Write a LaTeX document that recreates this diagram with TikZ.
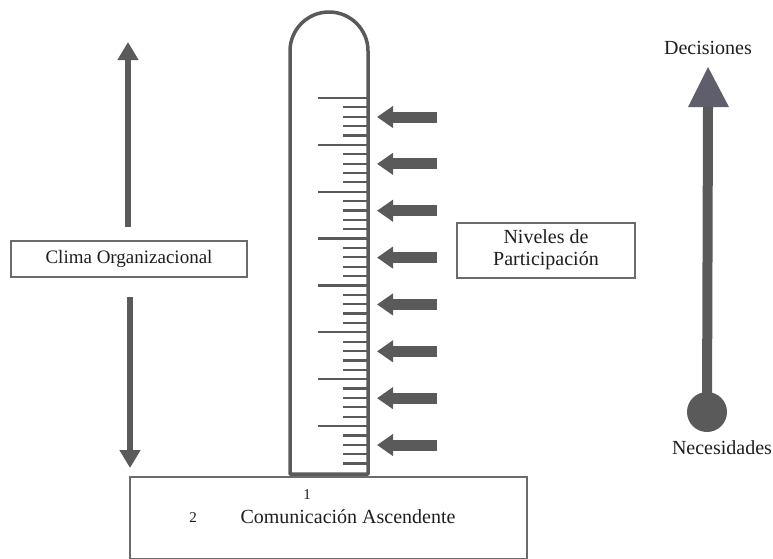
\documentclass[tikz,border=0pt]{standalone}
\usepackage{fontspec}
\setmainfont{Liberation Serif}
\usetikzlibrary{arrows.meta}
\definecolor{ink}{HTML}{5A5A5A}
\definecolor{headink}{HTML}{5E5E6C}
\definecolor{txt}{HTML}{1E1E1E}
\begin{document}
\begin{tikzpicture}[x=1pt,y=-1pt,
  frame/.style={draw=ink!90,line width=2pt,fill=white,text=txt,align=center,inner sep=0pt},
  label/.style={text=txt,font=\fontsize{20}{22}\selectfont,inner sep=0pt},
  pointer/.style={draw=ink,line width=11pt,-{Triangle[length=16pt,width=21pt]}},
  vert/.style={draw=ink,line width=5.5pt,-{Triangle[length=18pt,width=20pt]}}]
\useasboundingbox (0,0) rectangle (773,558);

% base box
\node[frame,minimum width=397pt,minimum height=82pt,anchor=north west] (base) at (129,476) {};
\node[text=txt,font=\fontsize{15}{16}\selectfont] (one) at (307,495) {1};
\node[text=txt,font=\fontsize{15}{16}\selectfont] (two) at (193,518) {2};
\node[label] (com) at (348,517) {Comunicación Ascendente};

% thermometer tube (rounded top)
\draw[ink,line width=3.5pt,line join=round] (290,474) -- (290,51) arc[start angle=180,end angle=360,radius=39] -- (368,474) -- cycle;

% scale ticks
\foreach \k in {0,...,7}{
  \pgfmathsetmacro{\yy}{98+\k*46.86}
  \draw[ink,line width=2.2pt] (318,\yy) -- (368,\yy);
  \foreach \j in {1,...,4}{
    \draw[ink,line width=2.2pt] (343,\yy+\j*9.37) -- (368,\yy+\j*9.37);
  }
  % pointers toward the scale
  \coordinate (pt\k) at (377,\yy+19);
  \coordinate (ps\k) at (437,\yy+19);
  \draw[pointer] (ps\k) -- (pt\k);
}

% climate label with arrows
\node[frame,font=\fontsize{19}{22}\selectfont,minimum width=236pt,minimum height=36pt] (clima) at (129,259) {Clima Organizacional};
\coordinate (upS) at (128,227);
\coordinate (upE) at (128,42);
\coordinate (dnS) at (130,297);
\coordinate (dnE) at (130,468);
\draw[vert] (upS) -- (upE);
\draw[vert] (dnS) -- (dnE);

% participation label
\node[frame,font=\fontsize{20}{22}\selectfont,minimum width=178pt,minimum height=55pt] (niv) at (546,250) {Niveles de\\Participación};

% needs to decisions scale
\node[label] (dec) at (708,48) {Decisiones};
\node[circle,fill=ink,minimum size=40pt,inner sep=0pt] (nec) at (707,412) {};
\node[label] (necl) at (722,448) {Necesidades};
\coordinate (tipB) at (708,106);
\draw[ink,line width=10pt] (nec.center) -- (tipB);
\fill[headink] (708,67) -- (729,107) -- (688,107) -- cycle;
\end{tikzpicture}
\end{document}
